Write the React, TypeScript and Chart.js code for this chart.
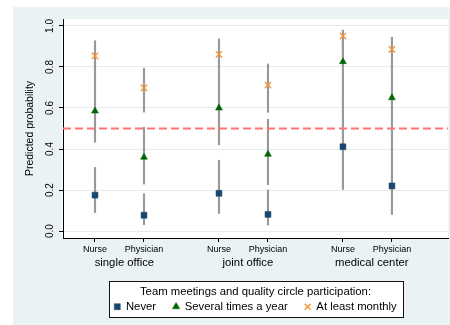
import React, { useEffect, useRef } from 'react';
import { Chart, registerables } from 'chart.js';

Chart.register(...registerables);

// ---- Data ----
const roles = ['Nurse', 'Physician', 'Nurse', 'Physician', 'Nurse', 'Physician'];
const groups = ['single office', 'joint office', 'medical center'];
const xPositions = [0, 1, 2.53, 3.53, 5.06, 6.06];
const groupLabelPositions = [0.6, 3.12, 5.65];
const seriesNames = ['Never', 'Several times a year', 'At least monthly'];

const neverVals = [0.175, 0.077, 0.184, 0.081, 0.411, 0.22];
const neverLo = [0.09, 0.031, 0.086, 0.029, 0.203, 0.081];
const neverHi = [0.31, 0.182, 0.345, 0.2, 0.655, 0.45];

const severalVals = [0.585, 0.36, 0.6, 0.374, 0.826, 0.65];
const severalLo = [0.433, 0.229, 0.42, 0.226, 0.655, 0.45];
const severalHi = [0.717, 0.506, 0.75, 0.545, 0.93, 0.8];

const monthlyVals = [0.854, 0.698, 0.862, 0.712, 0.951, 0.886];
const monthlyLo = [0.717, 0.58, 0.75, 0.579, 0.863, 0.797];
const monthlyHi = [0.928, 0.794, 0.937, 0.815, 0.98, 0.945];

const yTicks = [0, 0.2, 0.4, 0.6, 0.8, 1.0];
const threshold = 0.5;
const yMin = -0.034;
const yMax = 1.034;
const xMin = -0.653;
const xMax = 7.204;

const FONT = 'Liberation Sans, Arial, Helvetica, sans-serif';
const NAVY = '#1a476f';
const GREEN = '#006400';
const ORANGE = '#f7902f';
const CI_COLOR = '#999999';

const backgroundPlugin = {
  id: 'stataBackground',
  beforeDraw(chart: any) {
    const { ctx, chartArea, width, height } = chart;
    ctx.save();
    ctx.fillStyle = '#ffffff';
    ctx.fillRect(0, 0, width, height);
    ctx.fillStyle = '#eaf2f3';
    ctx.fillRect(13, 7, width - 13, height - 7);
    ctx.fillStyle = '#ffffff';
    ctx.fillRect(chartArea.left - 1, chartArea.top, chartArea.right - chartArea.left + 1, chartArea.bottom - chartArea.top);
    const lg = chart.legend;
    if (lg && lg.legendHitBoxes && lg.legendHitBoxes.length) {
      const hb = lg.legendHitBoxes;
      const first = hb[0];
      const last = hb[hb.length - 1];
      const left = Math.round(first.left - 5) + 0.5;
      const right = Math.round(last.left + last.width + 6) + 0.5;
      const top = Math.round(first.top - 20) + 0.5;
      const bottom = Math.round(first.top + 16) + 0.5;
      ctx.fillStyle = '#ffffff';
      ctx.fillRect(left, top, right - left, bottom - top);
      ctx.strokeStyle = '#111111';
      ctx.lineWidth = 1;
      ctx.strokeRect(left, top, right - left, bottom - top);
    }
    ctx.restore();
  },
};

function ciDataset(lo: number[], hi: number[]) {
  return {
    type: 'bar' as const,
    data: xPositions.map((x, i) => ({ x, y: [lo[i], hi[i]] })),
    backgroundColor: CI_COLOR,
    borderWidth: 0,
    barThickness: 1.5,
    grouped: false,
    order: 3,
  };
}

function markerDataset(label: string, vals: number[], style: string, color: string, radius: number, bw: number) {
  return {
    type: 'scatter' as const,
    label,
    data: xPositions.map((x, i) => ({ x, y: vals[i] })),
    pointStyle: style,
    pointRadius: radius,
    pointHoverRadius: radius,
    backgroundColor: color,
    borderColor: color,
    borderWidth: bw,
    order: 0,
  };
}

export default function App() {
  const ref = useRef<HTMLCanvasElement>(null);

  useEffect(() => {
    if (!ref.current) return;
    const chart = new Chart(ref.current, {
      type: 'scatter',
      data: {
        datasets: [
          markerDataset(seriesNames[0], neverVals, 'rect', NAVY, 4.2, 0.5),
          markerDataset(seriesNames[1], severalVals, 'triangle', GREEN, 4, 0.5),
          markerDataset(seriesNames[2], monthlyVals, 'crossRot', ORANGE, 4.5, 1.3),
          {
            type: 'line',
            label: 'threshold',
            data: [
              { x: xMin, y: threshold },
              { x: xMax, y: threshold },
            ],
            borderColor: '#ff7373',
            borderWidth: 2,
            borderDash: [8, 4],
            pointRadius: 0,
            pointHoverRadius: 0,
            fill: false,
            order: 2,
          } as any,
          ciDataset(neverLo, neverHi),
          ciDataset(severalLo, severalHi),
          ciDataset(monthlyLo, monthlyHi),
        ] as any,
      },
      options: {
        responsive: false,
        animation: false,
        devicePixelRatio: 1,
        events: [],
        layout: { autoPadding: false, padding: { left: 13, top: 19, right: 2, bottom: 2.65 } },
        plugins: {
          tooltip: { enabled: false },
          legend: {
            display: true,
            position: 'bottom',
            fullSize: false,
            labels: {
              usePointStyle: true,
              boxWidth: 6,
              boxHeight: 6,
              padding: 17,
              color: '#000',
              font: { size: 11.3, family: FONT },
              filter: (item: any) => item.datasetIndex < 3,
            },
            title: {
              display: true,
              text: 'Team meetings and quality circle participation:',
              color: '#000',
              font: { size: 11.3, family: FONT },
              padding: { top: 10.35, bottom: -15.86 } as any,
            },
          },
        },
        scales: {
          x: {
            type: 'linear',
            position: 'bottom',
            weight: 1,
            offset: false,
            min: xMin,
            max: xMax,
            afterBuildTicks: (s: any) => {
              s.ticks = xPositions.map((v) => ({ value: v }));
            },
            afterFit: (s: any) => {
              s.height = 18;
              s.paddingLeft = 0;
              s.paddingRight = 0;
            },
            ticks: {
              autoSkip: false,
              minRotation: 0,
              maxRotation: 0,
              padding: 2.6,
              color: '#000',
              font: { size: 9, family: FONT },
              callback: (_v: any, i: number) => roles[i],
            },
            grid: { offset: false, drawOnChartArea: false, drawTicks: true, tickLength: 4, tickColor: '#000' },
            border: { color: '#000', width: 1 },
          },
          x2: {
            type: 'linear',
            position: 'bottom',
            weight: 2,
            offset: false,
            min: xMin,
            max: xMax,
            afterBuildTicks: (s: any) => {
              s.ticks = groupLabelPositions.map((v) => ({ value: v }));
            },
            afterFit: (s: any) => {
              s.height = 20;
              s.paddingLeft = 0;
              s.paddingRight = 0;
            },
            ticks: {
              autoSkip: false,
              minRotation: 0,
              maxRotation: 0,
              padding: 0.2,
              color: '#000',
              font: { size: 11.3, family: FONT },
              callback: (_v: any, i: number) => groups[i],
            },
            grid: { offset: false, display: false, drawTicks: false },
            border: { display: false },
          },
          y: {
            type: 'linear',
            min: yMin,
            max: yMax,
            afterBuildTicks: (s: any) => {
              s.ticks = yTicks.map((v) => ({ value: v }));
            },
            afterFit: (s: any) => {
              s.width = 50;
            },
            ticks: {
              minRotation: 90,
              maxRotation: 90,
              crossAlign: 'center',
              padding: 2,
              color: '#000',
              font: { size: 10, family: FONT },
              callback: (v: any) => Number(v).toFixed(1),
            },
            grid: { color: '#e3ecee', lineWidth: 1, drawTicks: true, tickLength: 4, tickColor: '#000' },
            border: { color: '#000', width: 1 },
            title: {
              display: true,
              text: 'Predicted probability',
              color: '#000',
              font: { size: 10.5, family: FONT },
              padding: { top: 10.7, bottom: 0 },
            },
          },
        },
      } as any,
      plugins: [backgroundPlugin],
    });
    return () => chart.destroy();
  }, []);

  return (
    <div style={{ position: 'absolute', left: 0, top: 0, width: 450, height: 325 }}>
      <canvas ref={ref} width={450} height={325} style={{ display: 'block', width: 450, height: 325 }} />
    </div>
  );
}
